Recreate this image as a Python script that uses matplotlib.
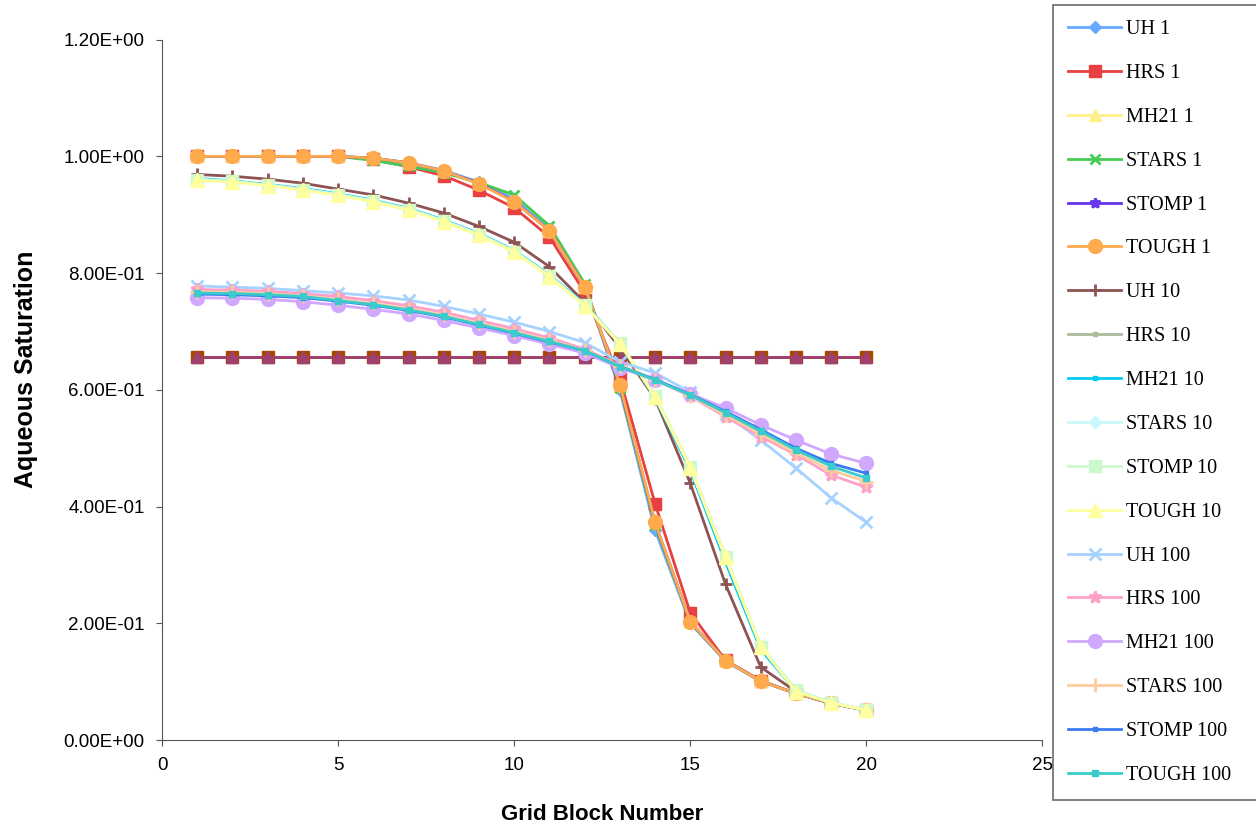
import matplotlib
matplotlib.use("Agg")
from matplotlib import pyplot as plt
from matplotlib.ticker import FormatStrFormatter

###--- data ---###
x = list(range(1, 21))

uh1    = [1.0, 1.0, 1.0, 1.0, 1.0, 0.997, 0.989, 0.976, 0.956, 0.927, 0.876, 0.778, 0.600, 0.360, 0.200, 0.135, 0.101, 0.080, 0.063, 0.051]
hrs1   = [1.0, 1.0, 1.0, 1.0, 1.0, 0.995, 0.982, 0.967, 0.942, 0.912, 0.862, 0.767, 0.620, 0.405, 0.218, 0.137, 0.102, 0.080, 0.063, 0.051]
mh21_1 = [1.0, 1.0, 1.0, 1.0, 1.0, 0.997, 0.989, 0.975, 0.954, 0.923, 0.873, 0.777, 0.607, 0.372, 0.203, 0.136, 0.101, 0.080, 0.063, 0.051]
stars1 = [1.0, 1.0, 1.0, 1.0, 1.0, 0.993, 0.983, 0.972, 0.955, 0.934, 0.881, 0.782, 0.603, 0.368, 0.202, 0.136, 0.101, 0.080, 0.063, 0.051]
stomp1 = [1.0, 1.0, 1.0, 1.0, 1.0, 0.997, 0.989, 0.975, 0.954, 0.923, 0.873, 0.777, 0.607, 0.372, 0.203, 0.136, 0.101, 0.080, 0.063, 0.051]
tough1 = [1.0, 1.0, 1.0, 1.0, 1.0, 0.997, 0.989, 0.975, 0.953, 0.922, 0.873, 0.777, 0.609, 0.373, 0.203, 0.136, 0.101, 0.080, 0.063, 0.051]

uh10    = [0.969, 0.966, 0.961, 0.954, 0.944, 0.934, 0.920, 0.903, 0.880, 0.853, 0.811, 0.750, 0.672, 0.585, 0.440, 0.267, 0.125, 0.083, 0.064, 0.051]
hrs10   = [0.960, 0.957, 0.951, 0.943, 0.934, 0.923, 0.909, 0.889, 0.866, 0.837, 0.795, 0.745, 0.680, 0.589, 0.468, 0.314, 0.160, 0.083, 0.064, 0.051]
mh21_10 = [0.962, 0.958, 0.952, 0.945, 0.936, 0.925, 0.911, 0.891, 0.868, 0.839, 0.797, 0.747, 0.680, 0.586, 0.462, 0.305, 0.155, 0.084, 0.064, 0.051]
stars10 = [0.961, 0.957, 0.951, 0.944, 0.935, 0.924, 0.910, 0.890, 0.867, 0.838, 0.796, 0.746, 0.680, 0.590, 0.466, 0.312, 0.162, 0.086, 0.065, 0.052]
stomp10 = [0.960, 0.957, 0.951, 0.943, 0.934, 0.923, 0.909, 0.889, 0.866, 0.837, 0.795, 0.745, 0.680, 0.589, 0.468, 0.314, 0.160, 0.085, 0.064, 0.051]
tough10 = [0.959, 0.956, 0.950, 0.942, 0.933, 0.922, 0.908, 0.888, 0.865, 0.836, 0.794, 0.744, 0.679, 0.588, 0.467, 0.313, 0.160, 0.083, 0.064, 0.051]

uh100    = [0.778, 0.776, 0.774, 0.770, 0.766, 0.761, 0.754, 0.743, 0.730, 0.716, 0.700, 0.681, 0.648, 0.629, 0.596, 0.558, 0.514, 0.466, 0.415, 0.373]
hrs100   = [0.772, 0.771, 0.769, 0.765, 0.760, 0.753, 0.744, 0.733, 0.719, 0.705, 0.689, 0.670, 0.642, 0.617, 0.589, 0.554, 0.520, 0.489, 0.454, 0.433]
mh21_100 = [0.758, 0.757, 0.755, 0.751, 0.745, 0.738, 0.730, 0.719, 0.706, 0.693, 0.678, 0.663, 0.638, 0.617, 0.593, 0.569, 0.540, 0.514, 0.490, 0.474]
stars100 = [0.768, 0.767, 0.765, 0.761, 0.755, 0.748, 0.739, 0.728, 0.714, 0.700, 0.685, 0.668, 0.641, 0.617, 0.590, 0.557, 0.524, 0.492, 0.462, 0.443]
stomp100 = [0.764, 0.763, 0.761, 0.758, 0.752, 0.745, 0.736, 0.725, 0.711, 0.697, 0.682, 0.667, 0.640, 0.618, 0.592, 0.563, 0.532, 0.500, 0.474, 0.457]
tough100 = [0.766, 0.765, 0.763, 0.760, 0.753, 0.746, 0.737, 0.726, 0.712, 0.698, 0.683, 0.667, 0.640, 0.617, 0.591, 0.561, 0.529, 0.497, 0.469, 0.449]

init_a = [0.6566] * 20
init_b = [0.6566] * 20

# (label, values, colour, marker, marker size)
series = [
    ("UH 1", uh1, "#66AAFF", "D", 6),
    ("HRS 1", hrs1, "#E84040", "s", 8),
    ("MH21 1", mh21_1, "#FFF08A", "^", 9),
    ("STARS 1", stars1, "#44CC55", "x", 7),
    ("STOMP 1", stomp1, "#6633EE", "*", 7),
    ("TOUGH 1", tough1, "#FFAA4C", "o", 10),
    ("UH 10", uh10, "#8E5454", "+", 9),
    ("HRS 10", hrs10, "#AABC9A", "s", 3),
    ("MH21 10", mh21_10, "#00CCF5", "s", 3),
    ("STARS 10", stars10, "#C8F8FA", "D", 6),
    ("STOMP 10", stomp10, "#CCF8CC", "s", 9),
    ("TOUGH 10", tough10, "#FFFFA0", "^", 10),
    ("UH 100", uh100, "#A6D2FF", "x", 9),
    ("HRS 100", hrs100, "#FFA0C8", "*", 9),
    ("MH21 100", mh21_100, "#D0A8FF", "o", 10),
    ("STARS 100", stars100, "#FFCC9E", "+", 10),
    ("STOMP 100", stomp100, "#3A7CF0", "s", 3),
    ("TOUGH 100", tough100, "#3ACCCC", "s", 4),
]

###--- plot ---###
fig = plt.figure(figsize=(12.56, 8.26), dpi=100)
ax = fig.add_axes([0.129, 0.104, 0.701, 0.848])

ax.plot(x, init_a, "-s", color="#A84800", ms=9, lw=2, label="_nolegend_")
ax.plot(x, init_b, "-^", color="#A04070", ms=9, lw=2, label="_nolegend_")
for name, y, col, mk, ms in series:
    ax.plot(x, y, "-", marker=mk, color=col, ms=ms, lw=2, mew=2 if mk in "x+*" else 1, label=name)

ax.set_xlim(0, 25)
ax.set_ylim(0, 1.2)
ax.set_xticks([0, 5, 10, 15, 20, 25])
ax.set_yticks([0, 0.2, 0.4, 0.6, 0.8, 1.0, 1.2])
ax.yaxis.set_major_formatter(FormatStrFormatter("%.2E"))
for s in ["top", "right"]:
    ax.spines[s].set_visible(False)
ax.spines["left"].set_color("#555555")
ax.spines["bottom"].set_color("#555555")
ax.tick_params(direction="out", length=4.5, labelsize=13.5, color="#555555")
ax.tick_params(axis="y", pad=8)
ax.tick_params(axis="x", pad=8)
for t in ax.get_xticklabels() + ax.get_yticklabels():
    t.set_fontfamily("Liberation Sans")
ax.set_xlabel("Grid Block Number", fontsize=16, fontweight="bold", family="Liberation Sans", labelpad=21)
ax.set_ylabel("Aqueous Saturation", fontsize=18, fontweight="bold", family="Liberation Sans")
ax.yaxis.set_label_coords(-0.141, 0.53)

leg = fig.legend(loc="upper left", bbox_to_anchor=(1053/1256, 0.041, 0.2, 0.953), mode="expand",
                 frameon=True, fancybox=False, edgecolor="#444444",
                 prop={"family": "Liberation Serif", "size": 14.5},
                 labelspacing=1.23, handlelength=2.65, handletextpad=0.2,
                 borderpad=0.75, borderaxespad=0)
leg.get_frame().set_linewidth(1.2)

plt.savefig("out.png", dpi=100)
